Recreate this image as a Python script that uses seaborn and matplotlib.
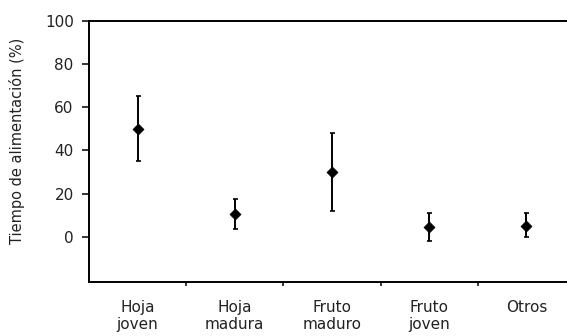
import matplotlib
matplotlib.use("Agg")
import matplotlib.pyplot as plt
import seaborn as sns
import pandas as pd
import numpy as np

categories = ["Hoja\njoven", "Hoja\nmadura", "Fruto\nmaduro", "Fruto\njoven", "Otros"]
means = [50, 10.5, 30, 4.5, 5]
upper = [65, 17.5, 48, 11, 11]
lower = [35, 3.5, 12, -2, 0]
yticks = [0, 20, 40, 60, 80, 100]

df = pd.DataFrame({"cat": categories, "mean": means, "lo": lower, "hi": upper})

sns.set_style("white")
plt.rcParams["font.family"] = ["DejaVu Sans"]

fig = plt.figure(figsize=(5.67, 3.36), dpi=100)
W, H = 567, 336
left, right, top, bottom = 89, 575, 21, 282
ax = fig.add_axes([left / W, 1 - bottom / H, (right - left) / W, (bottom - top) / H])

x = np.arange(len(categories))
ax.errorbar(x, df["mean"], yerr=[df["mean"] - df["lo"], df["hi"] - df["mean"]],
            fmt="none", ecolor="black", elinewidth=1.4, capsize=1.8, capthick=1.2)
sns.scatterplot(x=x, y=df["mean"], marker="D", s=32, color="black", edgecolor="black", ax=ax, zorder=3)

ax.set_xlim(-0.5, 4.5)
ax.set_ylim(-21, 100)
ax.set_yticks(yticks)
ax.set_yticklabels([str(v) for v in yticks], fontsize=11, color="#222222")
ax.set_xticks(x)
ax.set_xticklabels(categories, fontsize=11, linespacing=1.2, color="#222222")
ax.set_xticks(np.arange(0.5, 4, 1), minor=True)
ax.tick_params(axis="x", which="major", length=0, pad=13, bottom=True)
ax.tick_params(axis="x", which="minor", length=3, width=1.1, direction="out", color="black", bottom=True)
ax.tick_params(axis="y", length=5, width=1.1, direction="out", color="black", pad=6, left=True)
ax.set_ylabel("Tiempo de alimentación (%)", fontsize=10.5, color="#222222")
ax.yaxis.set_label_coords(-0.132, 0.54)

for s in ["left", "bottom", "top"]:
    ax.spines[s].set_color("black")
    ax.spines[s].set_linewidth(1.4)
    ax.spines[s].set_visible(True)
ax.spines["right"].set_visible(False)

fig.savefig("out.png", dpi=100)
